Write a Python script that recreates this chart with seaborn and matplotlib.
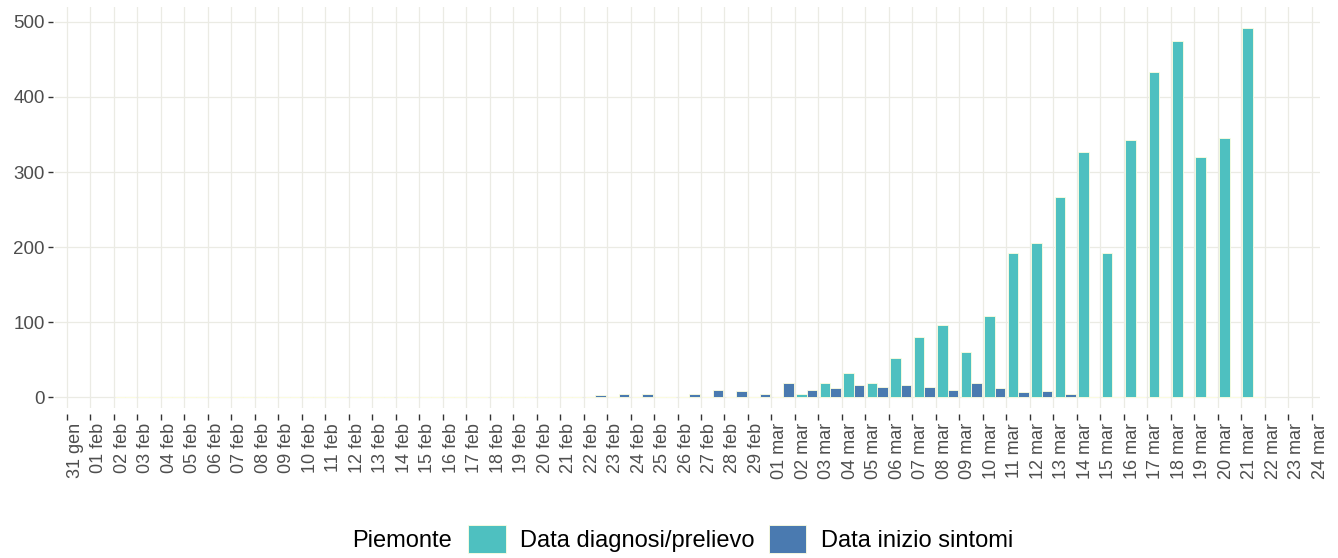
import numpy as np
import pandas as pd
import matplotlib
matplotlib.use('Agg')
import matplotlib.pyplot as plt
import seaborn as sns
from matplotlib.patches import Patch

# Giorni con dati: 02 feb - 21 mar 2020
giorni = pd.date_range('2020-02-02', '2020-03-21')

diagnosi = [0, 0, 0, 0, 0, 0, 0, 0, 0, 0,
            0, 0, 0, 0, 0, 0, 0, 0, 0, 0,
            0, 0, 0, 0, 0, 0, 0, 0,
            0, 5, 19, 33, 19, 53, 80, 96, 60, 108,
            192, 206, 267, 326, 192, 342, 433, 474, 320, 345, 492]

sintomi = [0, 0, 0, 0, 0, 0, 0, 0, 0, 0,
           0, 0, 0, 0, 0, 0, 0, 0, 0, 0,
           3, 5, 5, 0, 5, 10, 8, 5,
           19, 10, 12, 16, 14, 16, 14, 10, 19, 12,
           7, 8, 5, 0, 0, 0, 0, 0, 0, 0, 0]

serie = ['Data diagnosi/prelievo', 'Data inizio sintomi']
colori = ['#4EC0C0', '#4A7AB0']
mesi = {1: 'gen', 2: 'feb', 3: 'mar'}

# asse: tutte le date dal 31 gen al 24 mar
date_asse = pd.date_range('2020-01-31', '2020-03-24')
etichette = [f'{d.day:02d} {mesi[d.month]}' for d in date_asse]
intervalli = etichette[:-1]


def main():
    lab = [f'{d.day:02d} {mesi[d.month]}' for d in giorni]
    df = pd.DataFrame({
        'giorno': lab * 2,
        'valore': diagnosi + sintomi,
        'serie': [serie[0]] * len(lab) + [serie[1]] * len(lab),
    })

    plt.rcParams['font.family'] = ['Liberation Sans', 'DejaVu Sans']
    fig = plt.figure(figsize=(13.38, 5.58), dpi=100)
    ax = fig.add_axes([55 / 1338, 1 - 408 / 558, (1320 - 55) / 1338, (408 - 6.7) / 558])

    sns.barplot(data=df, x='giorno', y='valore', hue='serie', order=intervalli,
                hue_order=serie, palette=colori, saturation=1, width=0.9,
                edgecolor='#FFFFE0', linewidth=0.6, errorbar=None, legend=False, ax=ax)

    ax.set_xlim(-1.0, 52.85)
    ax.set_ylim(-14, 520)
    ax.set_xlabel('')
    ax.set_ylabel('')

    ax.set_axisbelow(True)
    ax.grid(True, axis='both', color='#EBEBE4', linewidth=0.9)
    for s in ax.spines.values():
        s.set_visible(False)
    ax.spines['bottom'].set_position(('outward', 4))
    ax.spines['left'].set_position(('outward', 1.5))
    ax.tick_params(axis='x', length=4.3, width=1.0, color='#333333', pad=2.5,
                   labelsize=13, labelcolor='#4D4D4D', labelrotation=90)
    ax.tick_params(axis='y', length=3.6, width=1.0, color='#333333', pad=2.2,
                   labelsize=13.5, labelcolor='#4D4D4D')

    ax.set_xticks(np.arange(len(etichette)) - 0.5)
    ax.set_xticklabels(etichette)
    ax.set_yticks([0, 100, 200, 300, 400, 500])
    for t in ax.get_xticklabels():
        t.set_rotation(90)
        t.set_ha('left')
        t.set_va('top')

    # legenda in basso
    fig.text(352 / 1338, 1 - 541 / 558, 'Piemonte', fontsize=17, va='center', ha='left')
    maniglie = [Patch(facecolor=c, edgecolor='#FFFFE0', linewidth=0.6) for c in colori]
    fig.legend(maniglie, serie, loc='center left', bbox_to_anchor=(468 / 1338, 1 - 539 / 558),
               ncol=2, frameon=False, fontsize=17, handlelength=1.6, handleheight=1.5,
               handletextpad=0.6, columnspacing=0.6, borderpad=0, borderaxespad=0)

    fig.savefig('out.png', dpi=100)
    plt.close('all')


if __name__ == '__main__':
    main()
